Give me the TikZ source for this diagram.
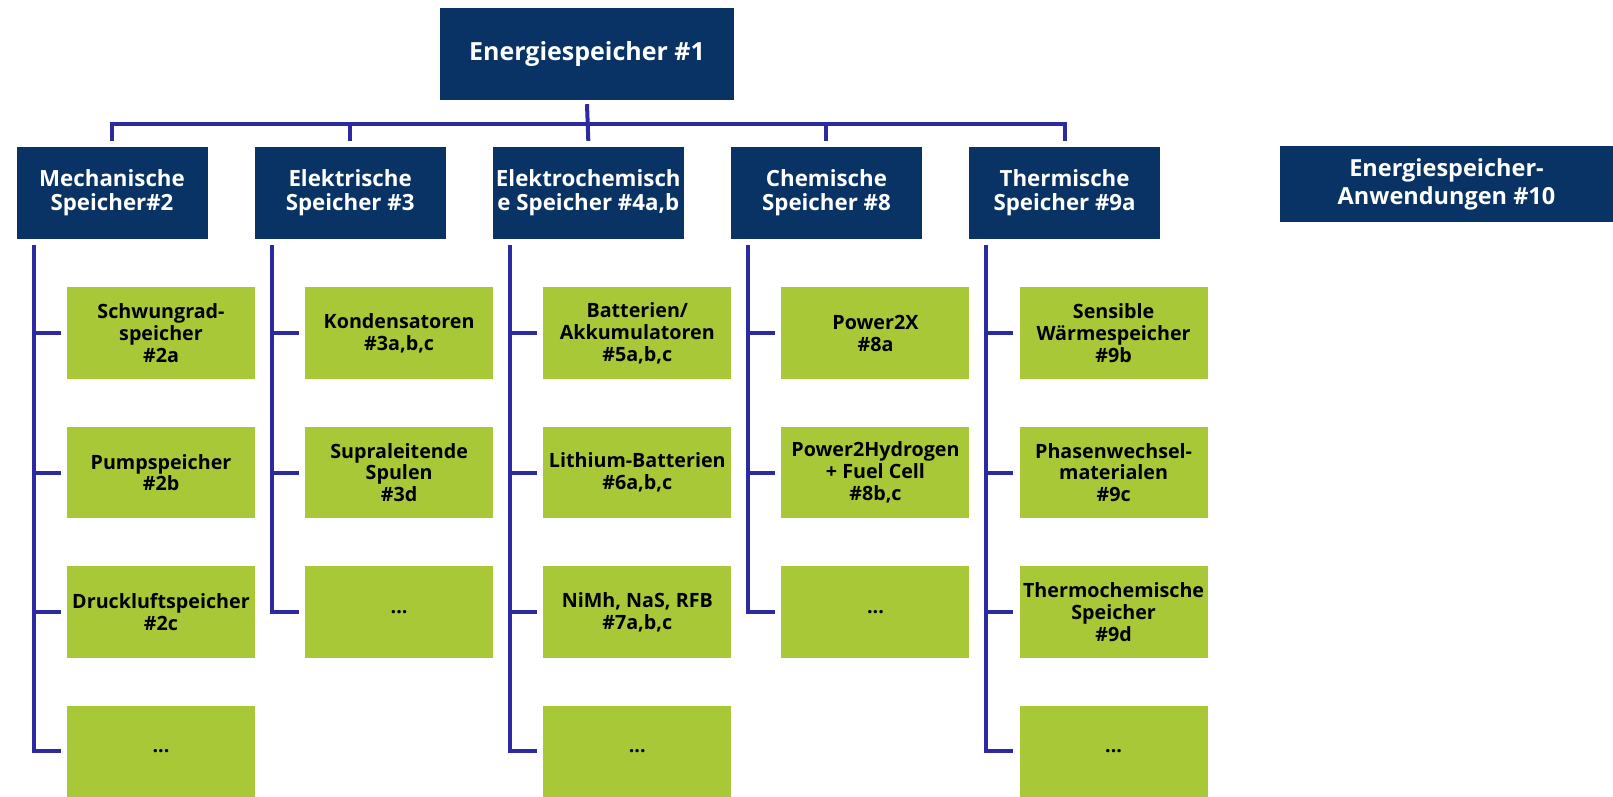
\documentclass[tikz,border=0pt]{standalone}
\usepackage{fontspec}
\setmainfont{Open Sans}
\usetikzlibrary{positioning}
\definecolor{navy}{RGB}{8,51,100}
\definecolor{leaf}{RGB}{168,200,56}
\definecolor{wire}{RGB}{44,42,160}
\tikzset{
  head/.style={fill=navy, text=white, align=center, inner sep=0pt,
    minimum width=191pt, minimum height=92pt,
    font=\bfseries\fontsize{22.3}{23.8}\selectfont},
  leafbox/.style={fill=leaf, text=black, align=center, inner sep=0pt,
    minimum width=188pt, minimum height=91.5pt,
    font=\bfseries\fontsize{19.7}{21.8}\selectfont},
  link/.style={draw=wire, line width=4pt},
}

\begin{document}
\begin{tikzpicture}[x=1pt, y=1pt]
  \useasboundingbox (0,0) rectangle (1613,-796);

  % Nodes
  \node[head, minimum width=294pt, font=\bfseries\fontsize{25}{28}\selectfont]
    (root) at (587,-54) {Energiespeicher \#1};
  \node[head] (mech) at (112,-193) {Mechanische\\Speicher\#2};
  \node[head, right=46.75pt of mech]   (elec)   {Elektrische\\Speicher \#3};
  \node[head, right=46.75pt of elec]   (elchem) {Elektrochemisch\\e Speicher \#4a,b};
  \node[head, right=46.75pt of elchem] (chem)   {Chemische\\Speicher \#8};
  \node[head, right=46.75pt of chem]   (therm)  {Thermische\\Speicher \#9a};
  \node[head, minimum width=333pt, minimum height=76pt,
    font=\bfseries\fontsize{23.5}{28}\selectfont]
    (apps) at (1446.5,-184) {Energiespeicher-\\Anwendungen \#10};

  \node[leafbox, below=48pt of mech, xshift=49pt] (m1) {Schwungrad-\\speicher\\\#2a};
  \node[leafbox, below=47.5pt of m1] (m2) {Pumpspeicher\\\#2b};
  \node[leafbox, below=47.5pt of m2] (m3) {Druckluftspeicher\\\#2c};
  \node[leafbox, below=47.5pt of m3] (m4) {...};

  \node[leafbox, below=48pt of elec, xshift=49pt] (e1) {Kondensatoren\\\#3a,b,c};
  \node[leafbox, below=47.5pt of e1] (e2) {Supraleitende\\Spulen\\\#3d};
  \node[leafbox, below=47.5pt of e2] (e3) {...};

  \node[leafbox, below=48pt of elchem, xshift=49pt] (b1) {Batterien/\\Akkumulatoren\\\#5a,b,c};
  \node[leafbox, below=47.5pt of b1] (b2) {Lithium-Batterien\\\#6a,b,c};
  \node[leafbox, below=47.5pt of b2] (b3) {NiMh, NaS, RFB\\\#7a,b,c};
  \node[leafbox, below=47.5pt of b3] (b4) {...};

  \node[leafbox, below=48pt of chem, xshift=49pt] (c1) {Power2X\\\#8a};
  \node[leafbox, below=47.5pt of c1] (c2) {Power2Hydrogen\\+ Fuel Cell\\\#8b,c};
  \node[leafbox, below=47.5pt of c2] (c3) {...};

  \node[leafbox, below=48pt of therm, xshift=49pt] (t1) {Sensible\\Wärmespeicher\\\#9b};
  \node[leafbox, below=47.5pt of t1] (t2) {Phasenwechsel-\\materialen\\\#9c};
  \node[leafbox, below=47.5pt of t2] (t3) {Thermochemische\\Speicher\\\#9d};
  \node[leafbox, below=47.5pt of t3] (t4) {...};

  % Edges
  \coordinate (bus) at (0,-124);
  \draw[link] ([yshift=-4pt]root.south) -- ([yshift=6pt]elchem.north);
  \draw[link] ([yshift=6pt]mech.north) |- (elchem.north |- bus) -| ([yshift=6pt]therm.north);
  \draw[link] (elec.north |- bus) -- ([yshift=6pt]elec.north);
  \draw[link] (chem.north |- bus) -- ([yshift=6pt]chem.north);

  \foreach \h/\last/\rest in {mech/m4/{m1,m2,m3}, elec/e3/{e1,e2},
      elchem/b4/{b1,b2,b3}, chem/c3/{c1,c2}, therm/t4/{t1,t2,t3}} {
    \draw[link] ([xshift=17.5pt,yshift=-6pt]\h.south west) |- ([xshift=-6pt]\last.west);
    \foreach \b in \rest
      \draw[link] ([xshift=17.5pt]\h.south west |- \b.west) -- ([xshift=-6pt]\b.west);
  }
\end{tikzpicture}
\end{document}
